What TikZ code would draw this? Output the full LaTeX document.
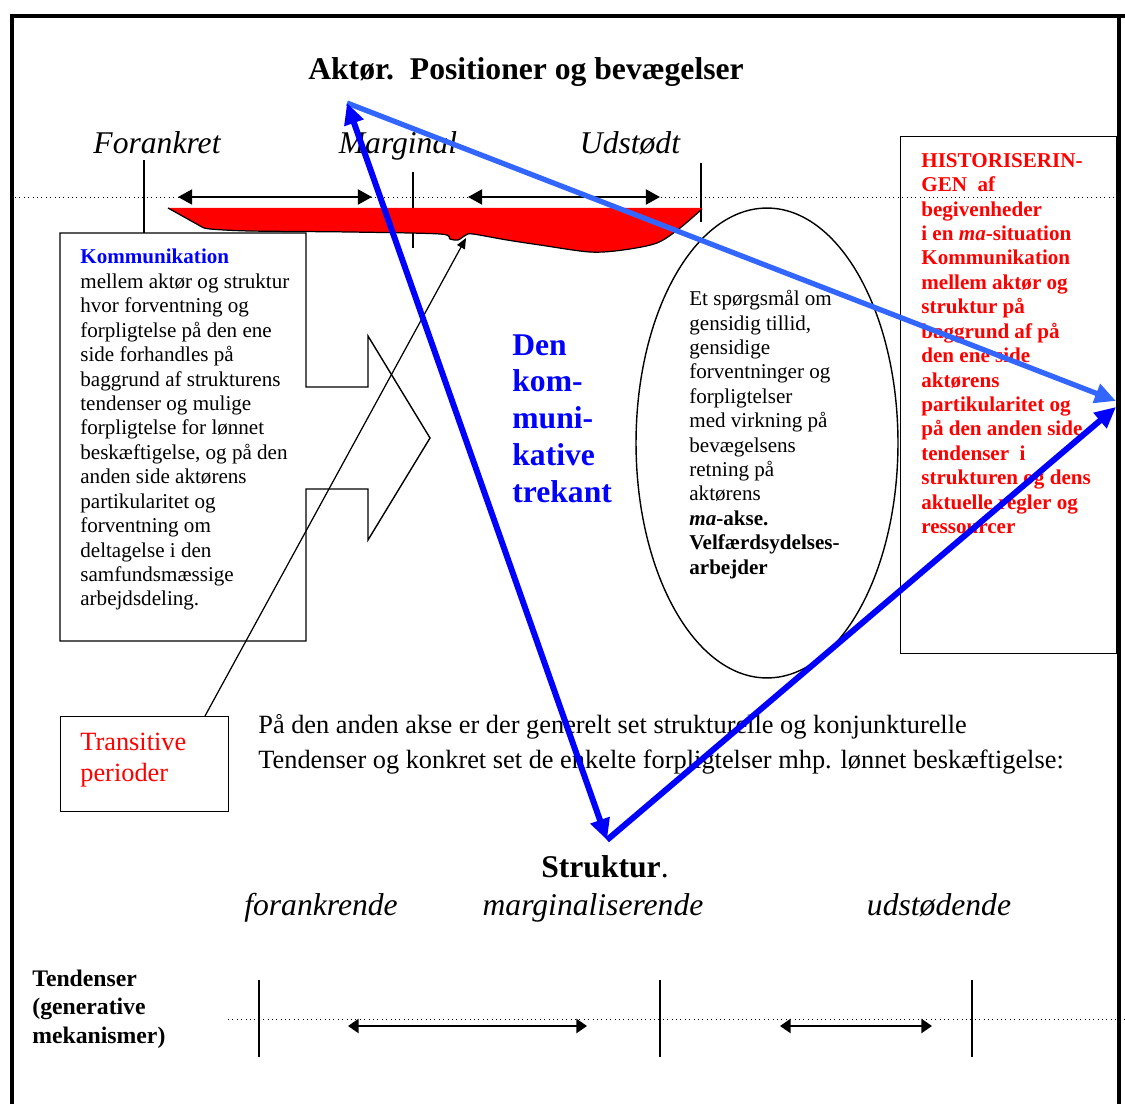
\documentclass[tikz,border=0pt]{standalone}
\usepackage{fontspec}
\setmainfont{Liberation Serif}
\usetikzlibrary{arrows.meta,shapes.geometric}
\definecolor{trekantblue}{RGB}{0, 0, 255}
\definecolor{lightblue}{RGB}{51, 102, 255}

\begin{document}
\begin{tikzpicture}[
    x=0.02cm, y=-0.02cm,
    bodytext/.style={anchor=north west, inner sep=0pt, align=left, font=\fontsize{12}{13.9}\selectfont},
    histtext/.style={bodytext, text=red, font=\fontsize{12}{13.9}\selectfont\bfseries},
    axislabel/.style={anchor=base, inner sep=0pt, font=\fontsize{18}{21}\selectfont\itshape},
    tickline/.style={line width=0.6pt},
    axisline/.style={dotted, line width=0.5pt},
    span/.style={{Triangle[length=8pt,width=8.5pt]}-{Triangle[length=8pt,width=8.5pt]}, line width=1.2pt},
    tendspan/.style={{Triangle[length=6pt,width=8pt]}-{Triangle[length=6pt,width=8pt]}, line width=1.1pt},
    bluearrow/.style={-{Triangle[length=12pt,width=11pt]}, line width=3.4pt, color=trekantblue}
]
    \useasboundingbox (0,0) rectangle (1125,1104);
    % frame
    \draw[line width=2.8pt] (12,1104) -- (12,16) -- (1125,16);
    \draw[line width=2.4pt] (1119,16) -- (1119,1104);

    % Actor axis
    \node[anchor=base, inner sep=0pt, font=\fontsize{18}{21}\selectfont\bfseries] (title) at (526,80) {Aktør.\ \ Positioner og bevægelser};
    \node[axislabel] (forankret) at (157,154) {Forankret};
    \node[axislabel] (marginal) at (398,154) {Marginal};
    \node[axislabel] (udstoedt) at (630,154) {Udstødt};
    \draw[axisline] (15,197) -- (1119,197);
    \draw[tickline] (144,160) -- (144,233);
    \draw[tickline] (413,172) -- (413,248);
    \draw[tickline] (701,163) -- (701,222);
    \draw[span] (178,197) -- (372,197);
    \draw[span] (468,197) -- (660,197);

    % red band
    \fill[red] (168,208) -- (702,208) -- plot[smooth] coordinates {(702,209) (680,228) (657,243) (623,250) (590,252) (540,245) (507,240) (473,234) (466,235) (458,240) (450,239) (440,234) (350,232) (250,231) (210,229) (202,227)} -- cycle;
    \draw[line width=0.7pt] plot[smooth] coordinates {(702,209) (680,228) (657,243) (623,250) (590,252) (540,245) (507,240) (473,234) (466,235) (458,240) (450,239) (440,234) (350,232) (250,231) (210,229) (202,227)} -- (168,208);

    % communication box with block arrow
    \draw[line width=0.8pt] (306,387) -- (306,233) -- (60,233) -- (60,641) -- (306,641) -- (306,489)
        -- (368,489) -- (368,540) -- (430,438) -- (368,336) -- (368,387) -- cycle;
    \node[bodytext] (kommtext) at (80,249) {\textcolor{trekantblue}{\bfseries Kommunikation}\\
        mellem aktør og struktur\\hvor forventning og\\forpligtelse på den ene\\side forhandles på\\
        baggrund af strukturens\\tendenser og mulige\\forpligtelse for lønnet\\beskæftigelse, og på den\\
        anden side aktørens\\partikularitet og\\forventning om\\deltagelse i den\\samfundsmæssige\\arbejdsdeling.};

    % triangle label
    \node[anchor=north west, inner sep=0pt, align=left, text=trekantblue, font=\fontsize{18}{21}\selectfont\bfseries] (trekant) at (512,334) {Den\\kom-\\muni-\\kative\\trekant};

    % ellipse
    \node[draw, ellipse, line width=0.8pt, minimum width=5.24cm, minimum height=9.4cm] (tillid) at (767,443) {};
    \node[bodytext] (tillidtext) at (689,290) {Et spørgsmål om\\gensidig tillid,\\gensidige\\forventninger og\\forpligtelser\\
        med virkning på\\bevægelsens\\retning på\\aktørens\\\textbf{\textit{ma}-akse.}\\\textbf{Velfærdsydelses-}\\\textbf{arbejder}};

    % historisation box
    \node[draw, line width=0.8pt, anchor=north west, minimum width=4.32cm, minimum height=10.34cm] (histbox) at (900,136) {};
    \node[histtext] (histtext) at (921,153) {HISTORISERIN-\\GEN\ \ af\\begivenheder\\i en \textit{ma}-situation\\Kommunikation\\
        mellem aktør og\\struktur på\\baggrund af på\\den ene side\\aktørens\\partikularitet og\\på den anden side\\
        tendenser\ \ i\\strukturen og dens\\aktuelle regler og\\ressourcer};

    % transitive periods
    \node[draw, line width=0.8pt, anchor=north west, minimum width=3.36cm, minimum height=1.9cm] (transbox) at (60,716) {};
    \node[anchor=north west, inner sep=0pt, align=left, text=red, font=\fontsize{15}{17.6}\selectfont] (transtext) at (80,733) {Transitive\\perioder};
    \coordinate (transtop) at (205,716);
    \coordinate (redtip) at (466,238);
    \draw[-{Triangle[length=6pt,width=5pt]}, line width=0.7pt] (transtop) -- (redtip);

    \node[anchor=north west, inner sep=0pt, align=left, font=\fontsize{15}{19.9}\selectfont] (akse) at (258,714) {På den anden akse er der generelt set strukturelle og konjunkturelle\\
        Tendenser og konkret set de enkelte forpligtelser mhp. lønnet beskæftigelse:};

    % triangle arrows
    \coordinate (aktoer) at (347,103);
    \coordinate (strukturpt) at (607,840);
    \coordinate (histtop) at (1116,401);
    \coordinate (histlow) at (1116,407);
    \draw[bluearrow, color=lightblue, line width=3pt] (aktoer) -- (histtop);
    \draw[bluearrow, {Triangle[length=12pt,width=11pt]}-{Triangle[length=12pt,width=11pt]}] (aktoer) -- (strukturpt);
    \draw[bluearrow] (strukturpt) -- (histlow);

    % structure axis
    \node[anchor=base, inner sep=0pt, font=\fontsize{18}{21}\selectfont] (struktur) at (605,877) {\textbf{Struktur}.};
    \node[axislabel] (forankrende) at (321,915) {forankrende};
    \node[axislabel] (marginaliserende) at (593,915) {marginaliserende};
    \node[axislabel] (udstoedende) at (939,915) {udstødende};
    \node[anchor=north west, inner sep=0pt, align=left, font=\fontsize{13.5}{16}\selectfont\bfseries] (tendenser) at (32,970) {Tendenser\\(generative\\mekanismer)};
    \draw[axisline] (228,1019) -- (1125,1019);
    \foreach \x in {259, 660, 972}
        \draw[tickline] (\x,980) -- (\x,1057);
    \draw[tendspan] (348,1026) -- (587,1026);
    \draw[tendspan] (780,1026) -- (932,1026);
\end{tikzpicture}
\end{document}
